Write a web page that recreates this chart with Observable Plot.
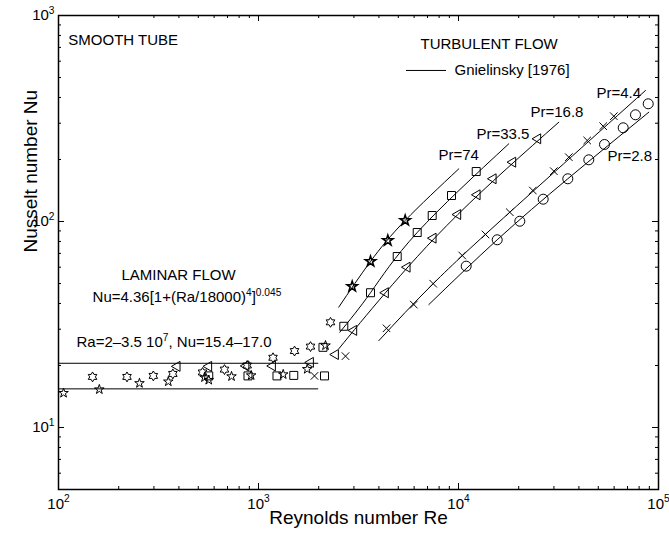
<!DOCTYPE html>
<html><head><meta charset="utf-8">
<script src="https://cdn.jsdelivr.net/npm/d3@7"></script>
<script src="https://cdn.jsdelivr.net/npm/@observablehq/plot@0.6"></script>
<style>
body{margin:0;background:#fff;}
#chart svg{display:block;font-family:"Liberation Sans",Arial,Helvetica,sans-serif;}
</style>
</head><body><div id="chart"></div>
<script>
// ---------- data ----------
const xMajor = [1e2, 1e3, 1e4, 1e5];
const yMajor = [1e1, 1e2, 1e3];
const xMinor = [200,300,400,500,600,700,800,900,2000,3000,4000,5000,6000,7000,8000,9000,20000,30000,40000,50000,60000,70000,80000,90000];
const yMinor = [6,7,8,9,20,30,40,50,60,70,80,90,200,300,400,500,600,700,800,900];

// pentagram stars, laminar region
const pentRe = [106, 160, 254, 354, 537, 564, 733, 919, 1329, 1752, 2163];
const pentNu = [14.7, 15.3, 16.4, 16.7, 17.5, 17.0, 17.7, 17.9, 18.1, 19.2, 25.0];
// pentagram stars, Pr=74
const pr74Re = [2941, 3631, 4432, 5413];
const pr74Nu = [48.4, 64.0, 80.9, 101.2];
// hexagram stars (laminar)
const hexRe = [148, 220, 298, 373, 525, 676, 878, 1182, 1514, 1820, 2291];
const hexNu = [17.6, 17.6, 17.8, 18.2, 18.5, 19.1, 20.0, 21.8, 23.5, 24.7, 32.4];
// left triangles (laminar + Pr=16.8)
const triRe = [392, 564, 866, 1175, 1820, 2427, 2996, 4315, 5540, 7472, 9920, 12403, 14913, 18685, 24920];
const triNu = [19.8, 19.8, 19.9, 19.9, 20.7, 22.6, 29.6, 45.1, 60.0, 83.0, 108.1, 134.8, 161.2, 194.1, 252.0];
// squares (laminar + Pr=33.5)
const sqRe = [564, 886, 1237, 1501, 2138, 2101, 2670, 3631, 4938, 6216, 7387, 9226, 12262];
const sqNu = [17.8, 17.8, 17.8, 17.9, 17.8, 24.5, 31.0, 45.1, 67.6, 88.4, 106.9, 133.7, 174.8];
// crosses (Pr=4.4)
const crossRe = [1905, 2723, 4365, 5977, 7472, 10435, 13646, 18050, 23526, 29966, 35604, 44008, 52906, 59771];
const crossNu = [17.8, 22.2, 30.3, 39.5, 49.9, 68.4, 86.5, 110.9, 141.4, 175.5, 205.2, 247.3, 290.1, 324.5];
// circles (Pr=2.8)
const circRe = [10926, 15614, 20257, 26516, 35196, 44823, 53703, 66604, 76736, 88830];
const circNu = [60.7, 81.5, 100.3, 128.3, 161.2, 199.3, 236.5, 285.0, 329.6, 372.7];

// Gnielinsky [1976] curves
const gn74Re = [2520, 3631, 5413, 10035];   const gn74Nu = [38.4, 64.0, 101.2, 180.2];
const gn335Re = [2550, 3631, 6216, 17845];  const gn335Nu = [29.0, 45.1, 88.4, 238.4];
const gn168Re = [2520, 4315, 9920, 31730];  const gn168Nu = [24.1, 45.1, 108.1, 303.4];
const gn44Re = [3996, 7472, 18050, 86099];  const gn44Nu = [26.4, 49.9, 110.9, 432.5];
const gn28Re = [7105, 15614, 35196, 89440]; const gn28Nu = [39.5, 81.5, 161.2, 339.3];

// laminar band lines
const lamRe = [100, 2000];
const lamNu = [15.4, 20.5];

// annotation texts
const prLabels = ["Pr=74", "Pr=33.5", "Pr=16.8", "Pr=4.4", "Pr=2.8"];
const prRe = [7943, 12303, 22909, 48978, 55590];
const prNu = [209, 264, 338, 418, 207];

// ---------- helpers ----------
const pts = (xs, ys) => xs.map((x, i) => ({x, y: ys[i]}));
const hexagram = {draw(ctx, size) {
  const R = Math.sqrt(size / Math.PI) * 1.1, r = R / Math.sqrt(3);
  for (let k = 0; k < 12; k++) {
    const a = -Math.PI / 2 + k * Math.PI / 6, rr = k % 2 ? r : R;
    const px = rr * Math.cos(a), py = rr * Math.sin(a);
    k ? ctx.lineTo(px, py) : ctx.moveTo(px, py);
  }
  ctx.closePath();
}};
const triLeft = {draw(ctx, size) {
  const R = Math.sqrt(size / Math.PI) * 1.15;
  ctx.moveTo(-R, 0);
  ctx.lineTo(R * 0.5, -R * 0.866);
  ctx.lineTo(R * 0.5, R * 0.866);
  ctx.closePath();
}};

const W = 669, H = 542, mL = 58, mR = 11, mT = 15, mB = 53;
const iW = W - mL - mR, iH = H - mT - mB;
const MAJ = 6, MIN = 3;
const expFmt = d => "10^{" + Math.round(Math.log10(d)) + "}";
const mk = {fill: "none", stroke: "black", strokeWidth: 1};
const lineOpts = {x: "x", y: "y", stroke: "black", strokeWidth: 1, curve: "natural"};

const chart = Plot.plot({
  width: W, height: H,
  marginLeft: mL, marginRight: mR, marginTop: mT, marginBottom: mB,
  x: {type: "log", domain: [1e2, 1e5], axis: null},
  y: {type: "log", domain: [5, 1e3], axis: null},
  style: {fontFamily: "Liberation Sans, Arial, sans-serif", background: "white", color: "black"},
  marks: [
    // ticks (inside, all four sides)
    Plot.ruleX(xMajor, {x: d => d, insetTop: iH - MAJ, stroke: "black"}),
    Plot.ruleX(xMajor, {x: d => d, insetBottom: iH - MAJ, stroke: "black"}),
    Plot.ruleX(xMinor, {x: d => d, insetTop: iH - MIN, stroke: "black"}),
    Plot.ruleX(xMinor, {x: d => d, insetBottom: iH - MIN, stroke: "black"}),
    Plot.ruleY(yMajor, {y: d => d, insetRight: iW - MAJ, stroke: "black"}),
    Plot.ruleY(yMajor, {y: d => d, insetLeft: iW - MAJ, stroke: "black"}),
    Plot.ruleY(yMinor, {y: d => d, insetRight: iW - MIN, stroke: "black"}),
    Plot.ruleY(yMinor, {y: d => d, insetLeft: iW - MIN, stroke: "black"}),
    Plot.frame({stroke: "black", strokeWidth: 1.5}),
    // tick labels
    Plot.text(xMajor, {x: d => d, frameAnchor: "bottom", dy: 19, text: expFmt, fontSize: 15}),
    Plot.text(yMajor, {y: d => d, frameAnchor: "left", dx: -4, textAnchor: "end", text: expFmt, fontSize: 15}),
    // axis labels
    Plot.text(["Reynolds number Re"], {frameAnchor: "bottom", dy: 34, text: d => d, fontSize: 19}),
    Plot.text(["Nusselt number Nu"], {frameAnchor: "left", dx: -28, rotate: -90, text: d => d, fontSize: 19}),
    // laminar band
    Plot.ruleY(lamNu, {y: d => d, x1: lamRe[0], x2: lamRe[1], stroke: "black", strokeWidth: 1}),
    // Gnielinsky curves
    Plot.line(pts(gn74Re, gn74Nu), lineOpts),
    Plot.line(pts(gn335Re, gn335Nu), lineOpts),
    Plot.line(pts(gn168Re, gn168Nu), lineOpts),
    Plot.line(pts(gn44Re, gn44Nu), lineOpts),
    Plot.line(pts(gn28Re, gn28Nu), lineOpts),
    // markers
    Plot.dot(pts(pentRe, pentNu), {x: "x", y: "y", symbol: "star", r: 3, ...mk}),
    Plot.dot(pts(pr74Re, pr74Nu), {x: "x", y: "y", symbol: "star", r: 3.3, fill: "none", stroke: "black", strokeWidth: 1.5}),
    Plot.dot(pts(hexRe, hexNu), {x: "x", y: "y", symbol: hexagram, r: 4.5, ...mk}),
    Plot.dot(pts(triRe, triNu), {x: "x", y: "y", symbol: triLeft, r: 5, ...mk}),
    Plot.dot(pts(sqRe, sqNu), {x: "x", y: "y", symbol: "square", r: 4.5, ...mk}),
    Plot.dot(pts(crossRe, crossNu), {x: "x", y: "y", symbol: "times", r: 3.5, ...mk}),
    Plot.dot(pts(circRe, circNu), {x: "x", y: "y", symbol: "circle", r: 5, ...mk}),
    // annotations
    Plot.text(["SMOOTH TUBE"], {x: 112, y: 756, text: d => d, textAnchor: "start", fontSize: 15}),
    Plot.text(["TURBULENT FLOW"], {x: 6457, y: 722, text: d => d, textAnchor: "start", fontSize: 15}),
    Plot.ruleY([541], {y: d => d, x1: 5495, x2: 8710, stroke: "black"}),
    Plot.text(["Gnielinsky [1976]"], {x: 9550, y: 541, text: d => d, textAnchor: "start", fontSize: 15}),
    Plot.text(["LAMINAR FLOW"], {x: 398, y: 54.7, text: d => d, fontSize: 15}),
    Plot.text(["Nu=4.36[1+(Ra/18000)^{4}]^{0.045}"], {x: 148, y: 42.8, text: d => d, textAnchor: "start", fontSize: 15}),
    Plot.text(["Ra=2\u20133.5 10^{7}, Nu=15.4\u201317.0"], {x: 123, y: 25.9, text: d => d, textAnchor: "start", fontSize: 15}),
    Plot.text(prLabels, {x: (d, i) => prRe[i], y: (d, i) => prNu[i], text: d => d, textAnchor: "start", fontSize: 15})
  ]
});
document.getElementById("chart").appendChild(chart);

// superscript rendering for "^{...}"
d3.select(chart).selectAll("text").each(function() {
  const el = this;
  const t = el.textContent;
  if (!t.includes("^{")) return;
  const fs = parseFloat(getComputedStyle(el).fontSize) || 12;
  const shift = fs * 0.42;
  const parts = t.split(/(\^\{[^}]*\})/).filter(s => s.length);
  while (el.firstChild) el.removeChild(el.firstChild);
  let raised = false;
  parts.forEach(p => {
    const ts = document.createElementNS("http://www.w3.org/2000/svg", "tspan");
    if (p.startsWith("^{")) {
      ts.textContent = p.slice(2, -1);
      ts.setAttribute("font-size", (fs * 0.68).toFixed(1));
      if (!raised) { ts.setAttribute("dy", (-shift).toFixed(1)); raised = true; }
    } else {
      ts.textContent = p;
      if (raised) { ts.setAttribute("dy", shift.toFixed(1)); raised = false; }
    }
    el.appendChild(ts);
  });
});
</script></body></html>
